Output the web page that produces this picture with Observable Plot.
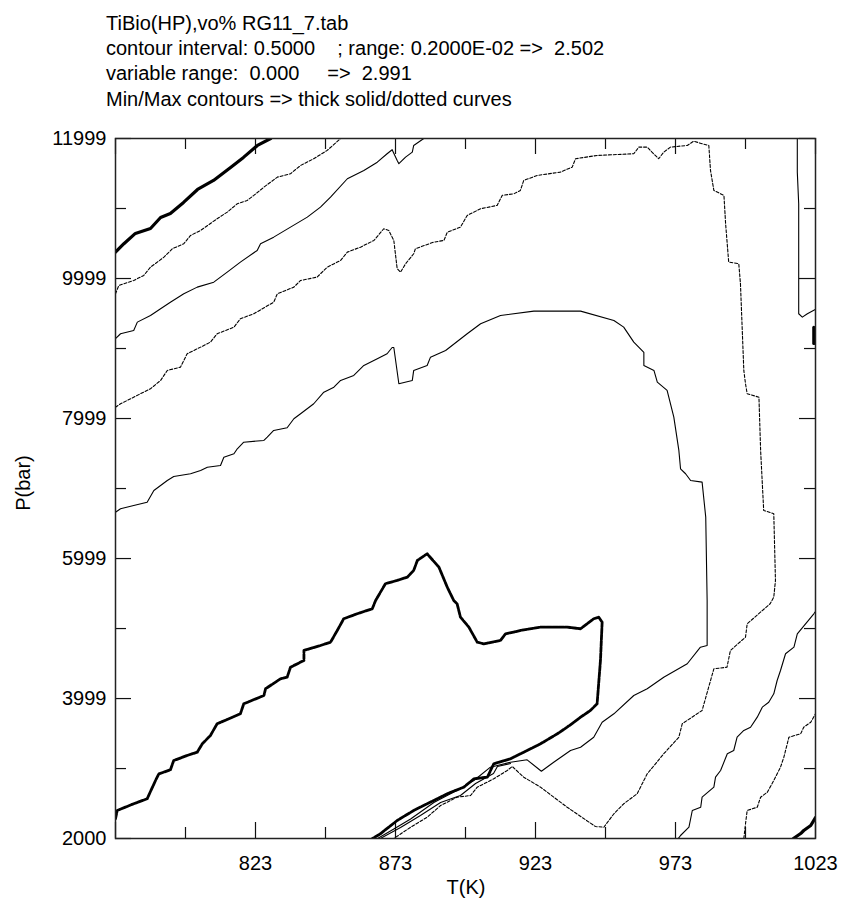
<!DOCTYPE html>
<html>
<head>
<meta charset="utf-8">
<script src="https://cdn.jsdelivr.net/npm/d3@7"></script>
<script src="https://cdn.jsdelivr.net/npm/@observablehq/plot@0.6"></script>
<style>
  html, body { margin: 0; padding: 0; background: #fff; }
  svg text { font-family: "Liberation Sans", Arial, Helvetica, sans-serif; }
</style>
</head>
<body>
<div id="chart"></div>
<script>
// ---- text ----
const titleLines = [
  "TiBio(HP),vo% RG11_7.tab",
  "contour interval: 0.5000    ; range: 0.2000E-02 =>  2.502",
  "variable range:  0.000     =>  2.991",
  "Min/Max contours => thick solid/dotted curves"
];
const xLabel = "T(K)";
const yLabel = "P(bar)";

// ---- axes ----
const xDomain = [773, 1023];
const yDomain = [2000, 11999];
const xMajor = [773, 823, 873, 923, 973, 1023];
const xMinor = [798, 848, 898, 948, 998];
const xTickLabels = [823, 873, 923, 973, 1023];
const yMajor = [2000, 3999, 5999, 7999, 9999, 11999];
const yMinor = [2999, 4999, 6999, 8999, 10999];
const yTickLabels = [2000, 3999, 5999, 7999, 9999, 11999];

// ---- contours [T(K), P(bar)] ----
const minTopLeft = [[773,10376],[776,10496],[780.1,10643],[785.5,10714],[789.1,10871],[792.6,10929],[797.3,11086],[802.3,11271],[808,11400],[814.1,11586],[818.7,11729],[823.7,11900],[828.4,11999]];
const dotB = [[773,9781],[774.2,9900],[779.5,9971],[783.1,10043],[785.5,10161],[790.3,10304],[793.3,10424],[797.4,10496],[799.8,10614],[803.4,10686],[809.3,10853],[812.9,10947],[816.5,11067],[820,11114],[822.4,11186],[826,11304],[830.8,11447],[835.5,11496],[839.1,11614],[843.8,11710],[848.6,11829],[853.4,11999]];
const solidC = [[773,9139],[774.8,9210],[779.5,9257],[780.8,9376],[785.5,9471],[789.1,9567],[792.6,9661],[797.4,9781],[802.2,9876],[808.1,9947],[812.9,10090],[817.6,10233],[823.6,10400],[824.8,10496],[829.5,10590],[835.5,10733],[841.5,10876],[846.2,11019],[849.8,11161],[855.8,11424],[861.7,11543],[866.5,11661],[870,11781],[871.8,11839],[873.6,11686],[874.2,11639],[876.6,11733],[879,11804],[879.5,11900],[883.1,11999]];
const dotD = [[773,8161],[774.8,8210],[778.4,8281],[781.9,8353],[785.5,8424],[789.1,8543],[791.5,8686],[796.2,8733],[798.6,8924],[803.4,9019],[806.9,9090],[809.3,9210],[815.3,9304],[817.6,9424],[822.4,9496],[829.5,9661],[830.8,9781],[836.7,9876],[839.1,9971],[845,10019],[848.6,10161],[853.4,10257],[855.8,10376],[860.5,10447],[865.3,10543],[868.8,10710],[870.6,10686],[872.4,10543],[873.6,10139],[874.8,10090],[876.6,10210],[879.5,10353],[880.1,10424],[886.7,10519],[890.3,10543],[891.5,10661],[896.2,10733],[898.6,10900],[903.4,10996],[909.3,11043],[911.1,11186],[915.3,11210],[917.6,11257],[918.8,11400],[923.6,11471],[931.9,11519],[936.1,11590],[937.3,11710],[945,11757],[958.1,11781],[959.9,11876],[962.9,11876],[964.6,11804],[967,11710],[968.8,11804],[971.2,11876],[977.2,11900],[979.5,11961],[982.5,11924],[984.9,11900],[985.5,11543],[986.7,11257],[990.3,11186],[990.9,10781],[992,10233],[995.6,10210],[996.2,9924],[997.4,8686],[998,8496],[998.6,8353],[1002.8,8304],[1003.4,7543],[1004.5,6686],[1008.1,6639],[1008.7,5686],[1008.1,5447],[1006.8,5353],[998.6,5067],[998,4876],[992.6,4686],[991.4,4447],[986.7,4424],[982.5,3829],[975.4,3639],[974.2,3447],[968.8,3210],[962.9,2924],[959.3,2639],[954.5,2496],[951,2353],[947.4,2161],[944.4,2171],[934.3,2447],[924.8,2733],[918.8,2876],[914.7,3029],[912.9,2971],[908.1,2853],[902.2,2733],[899.8,2614],[895,2590],[889.1,2471],[884.3,2304],[878.4,2161],[872.4,2000]];
const solidE = [[773,6661],[774.8,6710],[779.5,6757],[784.3,6804],[786.7,6971],[791.5,7114],[793.8,7171],[799.8,7210],[803.4,7257],[805.8,7304],[810.5,7329],[811.7,7447],[815.3,7496],[816.5,7567],[818.8,7661],[826,7686],[827.2,7733],[829.5,7829],[834.3,7867],[836.7,7996],[839.1,8067],[843.8,8210],[847.4,8376],[851,8447],[853.4,8543],[858.1,8614],[861.7,8757],[866.5,8853],[870,8924],[871.8,9014],[872.4,9014],[874.2,8496],[879,8543],[879.5,8686],[884.3,8757],[885.5,8876],[890.9,8971],[898.6,9210],[903.4,9353],[910.5,9471],[922.4,9533],[939.1,9533],[951,9400],[954.5,9304],[958.1,9090],[961.7,8943],[961.7,8757],[965.3,8686],[966.5,8519],[970,8400],[972.4,8019],[974.2,7543],[974.8,7281],[976.6,7210],[978.4,7114],[982.5,7090],[983.8,6590],[984.3,5400],[984.3,4757],[981.9,4733],[977.2,4496],[968.8,4304],[962.9,4139],[958.1,4043],[951,3781],[946.8,3661],[943.8,3447],[939.1,3304],[935.5,3257],[929.5,3090],[925.1,2961],[920,3124],[914.1,3090],[906.9,3019],[901,2829],[896.2,2714],[886.7,2514],[878.4,2279],[872.4,2136],[866.6,2000]];
const solidE2 = [[867.6,2000],[874.8,2157],[881.9,2329],[889.1,2514],[896.2,2614],[901.6,2786],[908,2929],[909.4,3029],[914.1,3071]];
const maxF = [[773,2281],[773.6,2400],[779.5,2496],[784.3,2567],[787.3,2829],[788.5,2924],[792.6,2981],[793.8,3114],[798.6,3186],[802.2,3233],[804,3353],[806.9,3471],[809.3,3639],[817.6,3781],[818.8,3924],[826,4043],[826.6,4139],[831.9,4281],[834.3,4304],[835.5,4447],[840.3,4543],[840.3,4686],[846.2,4757],[849.8,4804],[852.2,4971],[854.5,5139],[859.3,5210],[864.7,5281],[865.9,5400],[869.4,5639],[873.6,5686],[877.2,5733],[879.5,5829],[880.8,5971],[884.3,6067],[888.5,5876],[891.5,5590],[893.8,5400],[895,5353],[896.2,5161],[899.2,5019],[902.2,4804],[904.5,4781],[910.5,4829],[912.3,4924],[918.8,4981],[924.8,5019],[934.3,5019],[939.1,4996],[943.8,5139],[945.6,5161],[946.8,5090],[946.2,4543],[945,3924],[942.6,3829],[939.1,3733],[934.3,3590],[930.8,3496],[924.8,3353],[918.8,3233],[914.1,3139],[908.1,3067],[905.8,2876],[901,2853],[897.4,2733],[891.5,2639],[886.7,2543],[879.5,2400],[873.6,2257],[867.6,2067],[864.8,2000]];
const solidG = [[974,2000],[974.8,2043],[977.8,2161],[979,2400],[982,2447],[982.5,2590],[986.7,2733],[987.3,2876],[989.1,2971],[991.5,3210],[993.8,3257],[995,3447],[997.4,3543],[999.8,3590],[1002.2,3733],[1004,3876],[1006.3,3947],[1008.1,4067],[1009.3,4257],[1010.5,4400],[1012.3,4639],[1015.3,4733],[1016.5,4924],[1022.4,5210],[1023,5243]];
const dotH = [[997.4,2000],[998,2210],[998.6,2400],[1002.2,2447],[1003.4,2590],[1005.8,2661],[1008.1,2829],[1010.5,3019],[1011.7,3161],[1013.5,3447],[1017.7,3496],[1018.8,3590],[1021.3,3661],[1023,3781]];
const minCorner = [[1015.1,2000],[1017.7,2071],[1018.8,2114],[1021.3,2186],[1023,2300]];
const solidJ = [[1016.5,11999],[1016.5,11519],[1017,11067],[1017,9496],[1018.3,9447],[1020.1,9496],[1023,9557]];
const minEdge = [[1022.4,9300],[1022.4,9071]];

const toRows = (pts) => pts.map(([T, P]) => ({T, P}));

const thinSolid = {stroke: "#000", strokeWidth: 1.1};
const thinDot = {stroke: "#000", strokeWidth: 1.1, strokeDasharray: "3,1.8"};
const thickSolid = {stroke: "#000", strokeWidth: 3.2};
const thickDot = {stroke: "#000", strokeWidth: 2.8, strokeDasharray: "5,1.2"};

const line = (pts, style) => Plot.line(toRows(pts), {x: "T", y: "P", clip: true, ...style});

const W = 844, H = 900;
const mTop = 138, mBottom = 62, mLeft = 115, mRight = 29;
const frameH = H - mTop - mBottom;
const frameW = W - mLeft - mRight;

const plot = Plot.plot({
  width: W,
  height: H,
  marginTop: mTop,
  marginBottom: mBottom,
  marginLeft: mLeft,
  marginRight: mRight,
  style: {fontSize: "20px", fontFamily: "'Liberation Sans', Arial, sans-serif", background: "#fff", color: "#000"},
  x: {domain: xDomain, label: null},
  y: {domain: yDomain, label: null},
  marks: [
    // ticks inside frame
    Plot.ruleX(xMajor, {x: d => d, insetTop: frameH - 16, stroke: "#111", strokeWidth: 1.2}),
    Plot.ruleX(xMajor, {x: d => d, insetBottom: frameH - 16, stroke: "#111", strokeWidth: 1.2}),
    Plot.ruleX(xMinor, {x: d => d, insetTop: frameH - 11, stroke: "#111", strokeWidth: 1.2}),
    Plot.ruleX(xMinor, {x: d => d, insetBottom: frameH - 11, stroke: "#111", strokeWidth: 1.2}),
    Plot.ruleY(yMajor, {y: d => d, insetRight: frameW - 16, stroke: "#111", strokeWidth: 1.2}),
    Plot.ruleY(yMajor, {y: d => d, insetLeft: frameW - 16, stroke: "#111", strokeWidth: 1.2}),
    Plot.ruleY(yMinor, {y: d => d, insetRight: frameW - 11, stroke: "#111", strokeWidth: 1.2}),
    Plot.ruleY(yMinor, {y: d => d, insetLeft: frameW - 11, stroke: "#111", strokeWidth: 1.2}),
    // tick labels
    Plot.axisX({ticks: xTickLabels, tickSize: 0, tickPadding: 17, tickFormat: d => `${d}`, label: null, fontSize: 20}),
    Plot.axisY({ticks: yTickLabels, tickSize: 0, tickPadding: 9, tickFormat: d => `${d}`, label: null, fontSize: 20}),
    // contours
    line(dotB, thinDot),
    line(solidC, thinSolid),
    line(dotD, thinDot),
    line(solidE, thinSolid),
    line(solidE2, thinSolid),
    line(solidG, thinSolid),
    line(dotH, thinDot),
    line(solidJ, thinSolid),
    line(minTopLeft, thickSolid),
    line(minCorner, thickSolid),
    line(minEdge, thickSolid),
    line(maxF, thickDot),
    Plot.frame({stroke: "#222", strokeWidth: 1.5})
  ]
});

document.getElementById("chart").appendChild(plot);

const svg = d3.select(plot);
const titleX = 106;
const titleBaselines = [30, 55, 80, 106];
titleLines.forEach((t, i) => {
  svg.append("text")
    .attr("x", titleX)
    .attr("y", titleBaselines[i])
    .attr("text-anchor", "start")
    .attr("font-size", 20)
    .attr("fill", "#000")
    .style("white-space", "pre")
    .text(t);
});
svg.append("text")
  .attr("x", 466)
  .attr("y", 894)
  .attr("text-anchor", "middle")
  .attr("font-size", 20)
  .attr("fill", "#000")
  .text(xLabel);
svg.append("text")
  .attr("transform", "translate(30,483) rotate(-90)")
  .attr("text-anchor", "middle")
  .attr("font-size", 20)
  .attr("fill", "#000")
  .text(yLabel);
</script>
</body>
</html>
